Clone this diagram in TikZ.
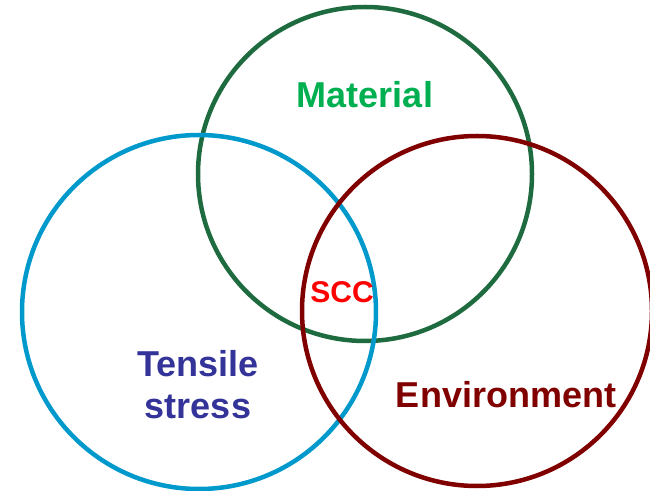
\documentclass[tikz,border=0pt]{standalone}
\usepackage{fontspec}
\setmainfont{Liberation Sans}
\definecolor{matgreen}{HTML}{1E6B40}
\definecolor{mattext}{HTML}{00B050}
\definecolor{stressblue}{HTML}{0099CC}
\definecolor{stresstext}{HTML}{333399}
\definecolor{envred}{HTML}{800000}
\definecolor{scctext}{HTML}{FF0000}

\begin{document}
\begin{tikzpicture}[x=1pt,y=1pt,line width=4.5pt]
	\useasboundingbox (0,0) rectangle (650,490);
	\coordinate (MAT) at (365,316);
	\coordinate (STR) at (199,178);
	\coordinate (ENV) at (477,179);
	\draw[matgreen] (MAT) circle (167);
	\draw[stressblue] (STR) circle (177);
	\draw[envred] (ENV) circle (175);
	\node[mattext,font=\fontsize{36}{40}\selectfont\bfseries] (material) at (365,395) {Material};
	\node[scctext,font=\fontsize{30}{34}\selectfont\bfseries] (scc) at (342,198) {SCC};
	\node[stresstext,font=\fontsize{36}{42}\selectfont\bfseries,align=center] (stress) at (198,105) {Tensile\\stress};
	\node[envred,font=\fontsize{36}{40}\selectfont\bfseries] (environment) at (506,95) {Environment};
\end{tikzpicture}
\end{document}
